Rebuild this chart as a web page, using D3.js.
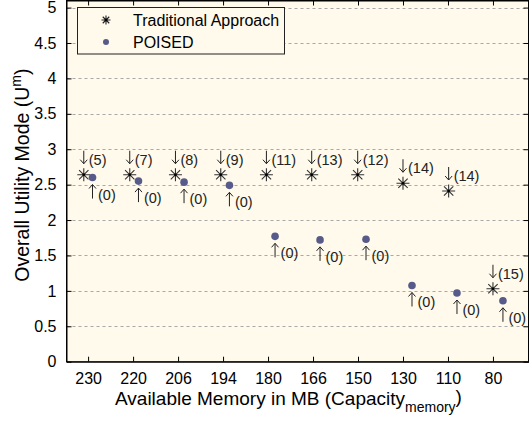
<!DOCTYPE html>
<html><head><meta charset="utf-8">
<script src="https://cdn.jsdelivr.net/npm/d3@7"></script>
<style>
html,body{margin:0;padding:0;background:#fff;}
svg{display:block;font-family:"Liberation Sans",Arial,Helvetica,sans-serif;}
</style></head><body>
<svg id="c" width="529" height="421"></svg>
<script>
// ---- data ----
const memoryLabels = ["230","220","206","194","180","166","150","130","110","80"];
const memoryPos = [1,2,3,4,5,6,7,8,9,10];
const tradX = [0.904,1.926,2.942,3.949,4.964,5.971,6.993,8.0,9.015,10.0];
const tradY = [2.64,2.64,2.64,2.64,2.64,2.64,2.64,2.52,2.41,1.03];
const tradNotes = ["(5)","(7)","(8)","(9)","(11)","(13)","(12)","(14)","(14)","(15)"];
const poisedX = [1.098,2.12,3.133,4.142,5.156,6.156,7.178,8.2,9.2,10.222];
const poisedY = [2.60,2.55,2.535,2.49,1.77,1.72,1.73,1.076,0.97,0.86];
const poisedNotes = ["(0)","(0)","(0)","(0)","(0)","(0)","(0)","(0)","(0)","(0)"];
const yTicks = [0,0.5,1,1.5,2,2.5,3,3.5,4,4.5,5];
const seriesNames = ["Traditional Approach","POISED"];

// ---- layout ----
const L = 66.5, R = 528.5, T = 0.5, B = 361.7;
const svg = d3.select("#c");
const x = d3.scaleLinear().domain([0.52, 10.79]).range([L, R]);
const y = d3.scaleLinear().domain([0, 5.1]).range([B, T]);

svg.append("rect").attr("x",L).attr("y",T).attr("width",R-L).attr("height",B-T).attr("fill","#fffaeb");

// grid
svg.append("g").selectAll("line").data(yTicks.filter(d=>d>0)).join("line")
  .attr("x1",L).attr("x2",R).attr("y1",d=>Math.round(y(d))+0.5).attr("y2",d=>Math.round(y(d))+0.5)
  .attr("stroke","#a8a8a8").attr("stroke-width",1).attr("stroke-dasharray","3,3");

// axes
const fmt = d => d3.format("")(d);
const xAxis = d3.axisBottom(x).tickValues(memoryPos).tickFormat((d,i)=>memoryLabels[i]).tickSizeInner(-5).tickSizeOuter(0).tickPadding(10);
const gx = svg.append("g").attr("transform",`translate(0,${B})`).call(xAxis);
const xAxisTop = d3.axisTop(x).tickValues(memoryPos).tickFormat("").tickSizeInner(-5).tickSizeOuter(0);
const gxt = svg.append("g").attr("transform",`translate(0,${T})`).call(xAxisTop);
const yAxis = d3.axisLeft(y).tickValues(yTicks).tickFormat(fmt).tickSizeInner(-5).tickSizeOuter(0).tickPadding(10);
const gy = svg.append("g").attr("transform",`translate(${L},0)`).call(yAxis);
const yAxisR = d3.axisRight(y).tickValues(yTicks).tickFormat("").tickSizeInner(-5).tickSizeOuter(0);
const gyr = svg.append("g").attr("transform",`translate(${R},0)`).call(yAxisR);
[gx,gxt,gy,gyr].forEach(g=>{
  g.select(".domain").attr("stroke","#000");
  g.selectAll(".tick line").attr("stroke","#000");
  g.selectAll("text").attr("font-size",16).attr("fill","#000").attr("font-family","Liberation Sans, Arial, sans-serif");
});
gx.selectAll("text").attr("dy","0.75em");

// frame
svg.append("rect").attr("x",L).attr("y",T).attr("width",R-L).attr("height",B-T).attr("fill","none").attr("stroke","#000");

// markers
function star(g, cx, cy, r, col){
  const a = r*0.72;
  g.append("path").attr("d",`M${cx-r},${cy}H${cx+r}M${cx},${cy-r}V${cy+r}M${cx-a},${cy-a}L${cx+a},${cy+a}M${cx-a},${cy+a}L${cx+a},${cy-a}`)
   .attr("stroke",col).attr("stroke-width",1.1).attr("fill","none");
  g.append("circle").attr("cx",cx).attr("cy",cy).attr("r",1.3).attr("fill","#000");
}
const gm = svg.append("g");
tradX.forEach((v,i)=>star(gm, x(v), y(tradY[i]), 6.5, "#333"));
gm.selectAll("circle.p").data(poisedX).join("circle").attr("class","p")
  .attr("cx",d=>x(d)).attr("cy",(d,i)=>y(poisedY[i])).attr("r",3.8).attr("fill","#575b8a");

// annotations
const ga = svg.append("g").attr("fill","#222").attr("font-size",14.5);
tradX.forEach((v,i)=>{
  const cx = x(v), cy = y(tradY[i]);
  ga.append("path").attr("d",`M${cx},${cy-24}V${cy-11}M${cx-3.5},${cy-15}L${cx},${cy-11}L${cx+3.5},${cy-15}`)
    .attr("stroke","#222").attr("stroke-width",1).attr("fill","none");
  ga.append("text").attr("x",cx+5).attr("y",cy-10).text(tradNotes[i]);
});
poisedX.forEach((v,i)=>{
  const cx = x(v), cy = y(poisedY[i]);
  ga.append("path").attr("d",`M${cx},${cy+21}V${cy+7}M${cx-3.5},${cy+11}L${cx},${cy+7}L${cx+3.5},${cy+11}`)
    .attr("stroke","#222").attr("stroke-width",1).attr("fill","none");
  ga.append("text").attr("x",cx+5.5).attr("y",cy+22).text(poisedNotes[i]);
});

// legend
const lg = svg.append("g");
lg.append("rect").attr("x",77.5).attr("y",7.5).attr("width",207).attr("height",46.5)
  .attr("fill","#fffaeb").attr("stroke","#222").attr("stroke-width",1);
star(lg, 106, 20, 4.5, "#222");
lg.append("circle").attr("cx",106).attr("cy",42).attr("r",3).attr("fill","#575b8a");
lg.append("text").attr("x",133).attr("y",26).attr("font-size",16).text(seriesNames[0]);
lg.append("text").attr("x",133).attr("y",48).attr("font-size",16).text(seriesNames[1]);

// axis titles
const xt = svg.append("text").attr("x",115).attr("y",405).attr("font-size",19).attr("fill","#000");
xt.append("tspan").text("Available Memory in MB (Capacity");
xt.append("tspan").attr("font-size",14).attr("dy",7).text("memory");
xt.append("tspan").attr("dy",-9).text(")");

const yt = svg.append("text").attr("transform",`translate(29,${(T+B)/2 - 6}) rotate(-90)`).attr("text-anchor","middle").attr("font-size",19.5).attr("fill","#000");
yt.append("tspan").text("Overall Utility Mode (U");
yt.append("tspan").attr("font-size",14).attr("dy",-8).text("m");
yt.append("tspan").attr("dy",8).text(")");
</script>
</body></html>
